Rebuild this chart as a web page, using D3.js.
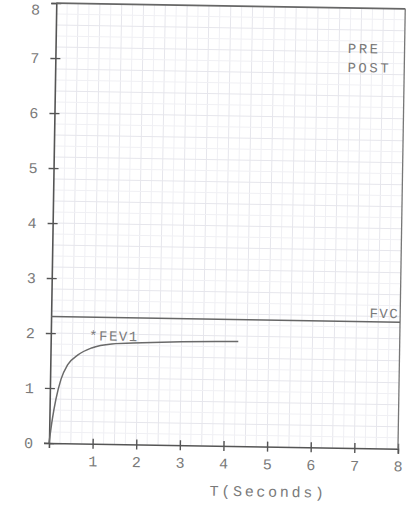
<!DOCTYPE html>
<meta charset="utf-8">
<script src="https://cdn.jsdelivr.net/npm/d3@7"></script>
<style>
  body { margin: 0; background: #fff; }
  text { font-family: "Liberation Mono", "DejaVu Sans Mono", monospace; fill: #7a7a7a; }
</style>
<div id="chart"></div>
<script>

// tick labels on the two axes
var timeTicks = [1, 2, 3, 4, 5, 6, 7, 8]
var volumeTicks = [0, 1, 2, 3, 4, 5, 6, 7, 8]

// FEV1 curve (seconds, litres)
var fevTime   = [0, 0.07, 0.14, 0.25, 0.4, 0.63, 0.94, 1.4, 2.1, 3.0, 4.3]
var fevVolume = [0, 0.45, 0.79, 1.16, 1.43, 1.61, 1.74, 1.82, 1.85, 1.88, 1.9]

// FVC level
var fvcValue = 2.3
var legendLabels = ["PRE", "POST"]

var width = 406, height = 506
var origin = {x: 49, y: 443}

var svg = d3.select("#chart").append("svg")
    .attr("width", width)
    .attr("height", height)

// the scanned sheet sits a little tilted
var g = svg.append("g")
    .attr("transform", "rotate(0.95," + origin.x + "," + origin.y + ")")

var x = d3.scaleLinear().domain([0, 8]).range([origin.x, 398])
var y = d3.scaleLinear().domain([0, 8]).range([origin.y, 3])

// graph paper grid
var grid = g.append("g").attr("stroke-width", 1)
grid.selectAll(".vg")
  .data(d3.range(0.25, 8, 0.25))
  .enter().append("line")
    .attr("x1", function(d) { return x(d) }).attr("x2", function(d) { return x(d) })
    .attr("y1", y(0)).attr("y2", y(8))
    .attr("stroke", function(d, i) { return (i % 2 == 1) ? "#e6e6ec" : "#f0f0f4" })
grid.selectAll(".hg")
  .data(d3.range(0.2, 8, 0.2))
  .enter().append("line")
    .attr("y1", function(d) { return y(d) }).attr("y2", function(d) { return y(d) })
    .attr("x1", x(0)).attr("x2", x(8))
    .attr("stroke", function(d, i) { return (i % 2 == 1) ? "#e6e6ec" : "#f0f0f4" })

// axes
var xAxis = g.append("g")
    .attr("transform", "translate(0," + y(0) + ")")
    .call(d3.axisBottom(x).tickValues(timeTicks).tickSize(5).tickFormat(d3.format("d")))
var yAxis = g.append("g")
    .attr("transform", "translate(" + x(0) + ",0)")
    .call(d3.axisLeft(y).tickValues(volumeTicks).tickSize(5).tickFormat(d3.format("d")))

xAxis.select(".domain").attr("stroke", "#555").attr("stroke-width", 1.6)
yAxis.select(".domain").attr("stroke", "#555").attr("stroke-width", 1.6)
// ticks cross the axis line
xAxis.selectAll(".tick line").attr("y1", -5).attr("stroke", "#555").attr("stroke-width", 1.4)
yAxis.selectAll(".tick line").attr("x1", 5).attr("stroke", "#555").attr("stroke-width", 1.4)
xAxis.selectAll(".tick text").attr("y", 12).style("font-size", "15px").attr("fill", "#7a7a7a")
yAxis.selectAll(".tick text").attr("x", -16).style("font-size", "15px").attr("fill", "#7a7a7a")
// top label sits at the paper edge, keep it on the page
yAxis.selectAll(".tick text").filter(function(d) { return d == 8 }).attr("dy", "0.75em")

// frame: top and right
g.append("line")
    .attr("x1", x(0)).attr("x2", x(8)).attr("y1", y(8)).attr("y2", y(8))
    .attr("stroke", "#666").attr("stroke-width", 1.8)
g.append("line")
    .attr("x1", x(8)).attr("x2", x(8)).attr("y1", y(8)).attr("y2", y(0))
    .attr("stroke", "#777").attr("stroke-width", 1.3)

// FVC line
g.append("line")
    .attr("x1", x(0)).attr("x2", x(8))
    .attr("y1", y(fvcValue)).attr("y2", y(fvcValue))
    .attr("stroke", "#666").attr("stroke-width", 1.5)
g.append("text")
    .attr("x", x(8) - 1).attr("y", y(fvcValue) - 4)
    .attr("text-anchor", "end")
    .style("font-size", "14px")
    .style("letter-spacing", "1.5px")
    .text("FVC")

// FEV1 trace
var pts = fevTime.map(function(t, i) { return [t, fevVolume[i]] })
g.append("path")
    .datum(pts)
    .attr("fill", "none")
    .attr("stroke", "#6a6a6a")
    .attr("stroke-width", 1.5)
    .attr("d", d3.line()
      .x(function(d) { return x(d[0]) })
      .y(function(d) { return y(d[1]) })
      .curve(d3.curveMonotoneX))
g.append("text")
    .attr("x", x(0.88)).attr("y", y(1.88))
    .style("font-size", "14px")
    .style("letter-spacing", "1.5px")
    .attr("fill", "#666")
    .text("*FEV1")

// PRE / POST legend
g.selectAll(".leg")
  .data(legendLabels)
  .enter().append("text")
    .attr("x", x(6.7))
    .attr("y", function(d, i) { return y(7.18) + i * 19 })
    .style("font-size", "14px")
    .style("letter-spacing", "2.5px")
    .attr("fill", "#8a8a8a")
    .text(function(d) { return d })

// axis title
g.append("text")
    .attr("x", x(3.7)).attr("y", y(0) + 50)
    .style("font-size", "15px")
    .style("letter-spacing", "2.7px")
    .text("T(Seconds)")

</script>
